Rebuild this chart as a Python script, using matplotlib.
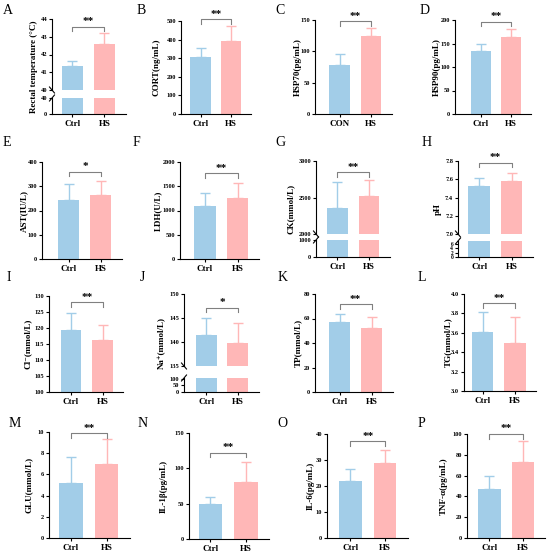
import numpy as np
import matplotlib.pyplot as plt
from matplotlib.ticker import MultipleLocator, FormatStrFormatter

plt.rcParams['font.family'] = ['Liberation Serif', 'DejaVu Serif', 'DejaVu Sans']
plt.rcParams['font.weight'] = 'bold'
plt.rcParams['axes.labelweight'] = 'bold'

W, H = 550, 555

# ---- values ----
letters = list("ABCDEFGHIJKLMNOP")
ylabels = ["Rectal temperature (°C)", "CORT(ng/mL)", "HSP70(pg/mL)", "HSP90(pg/mL)",
           "AST(IU/L)", "LDH(U/L)", "CK(mmol/L)", "pH",
           "Cl⁻(mmol/L)", "Na⁺(mmol/L)", "TP(mmol/L)", "TG(mmol/L)",
           "GLU(mmol/L)", "IL-1β(pg/mL)", "IL-6(pg/mL)", "TNF-α(pg/mL)"]
groups = [["Ctrl", "HS"]] * 16
groups[2] = ["CON", "HS"]

ctrl_mean = [41.33, 308, 78, 133, 243, 1095, 2356, 7.53, 119.3, 141.5, 57.0, 3.61, 5.2, 49, 22.1, 47]
ctrl_err = [0.28, 48, 18, 15, 66, 273, 356, 0.08, 5.4, 3.6, 7.0, 0.20, 2.4, 10.6, 4.4, 12.5]
hs_mean = [42.6, 394, 124, 164, 265, 1265, 2520, 7.58, 116.2, 139.8, 52.6, 3.50, 7.0, 81, 28.8, 72.7]
hs_err = [0.59, 79, 14, 16, 57, 295, 220, 0.09, 4.6, 4.2, 8.5, 0.265, 2.34, 27.3, 4.9, 20.9]
sig = ['**', '**', '**', '**', '*', '**', '**', '**', '**', '*', '**', '**', '**', '**', '**', '**']
sig_y = [43.55, 510, 148, 196, 359, 1773, 2849, 7.78, 128.1, 147.1, 71.8, 3.907, 9.9, 121.7, 37.3, 100]

# axis ranges
ylims = [(40, 44), (0, 500), (0, 150), (0, 200), (0, 400), (0, 2000), (2000, 3000), (7.0, 7.8),
         (100, 130), (135, 150), (0, 80), (3.0, 4.0), (0, 10), (0, 150), (0, 40), (0, 100)]
ysteps = [1, 100, 50, 50, 100, 500, 500, 0.2, 5, 5, 20, 0.2, 2, 50, 10, 20]
# lower part of broken axes: limits, ticks
lower = {0: ((0, 40), [0, 40]), 6: ((0, 1000), [0, 1000]),
         7: ((0, 7.5), [0, 2, 4, 6]), 9: ((0, 105), [0, 50, 100])}

# ---- layout in pixels: left, top, bottom, px per bar slot, left offset ----
layout = [(52, 19, 114, 32, 0.64), (181, 21, 114, 30.5, 0.64), (315, 20, 114, 31.5, 0.78), (455, 20, 114, 30.5, 0.84),
          (42, 162, 259, 32, 0.84), (180, 162, 259, 32.5, 0.77), (316, 161, 257, 31.5, 0.68), (458, 161, 257, 32.5, 0.65),
          (49, 296, 392, 31.5, 0.70), (184, 294, 392, 31.5, 0.71), (315, 294, 392, 32, 0.77), (464, 294, 391, 32.5, 0.57),
          (49, 432, 538, 35.5, 0.62), (189, 433, 539, 35.5, 0.60), (327, 434, 538, 34.5, 0.68), (467, 434, 538, 33.5, 0.67)]
splits = {0: (90, 98), 6: (234, 240), 7: (234, 241), 9: (366, 378)}
lab_off = [19, 25, 18, 19, 18, 22, 26, 21, 22, 22, 17, 17, 21, 26, 17, 24]
letter_pos = [(3, 4), (137, 4), (275, 4), (420, 4), (3, 136), (133, 136), (275, 136), (422, 136),
              (7, 271), (140, 271), (278, 271), (418, 271), (9, 417), (138, 417), (277, 417), (418, 417)]

blue = '#a2cde8'
pink = '#ffb7b7'
colors = [blue, pink]
barw = 0.66


def px2fig(l, t, r, b):
    return [l / W, 1 - b / H, (r - l) / W, (b - t) / H]


def style(a, fs_y=4.6):
    a.spines['top'].set_visible(False)
    a.spines['right'].set_visible(False)
    a.spines['left'].set_linewidth(0.8)
    a.spines['bottom'].set_linewidth(0.8)
    a.tick_params(axis='both', length=2.5, width=0.8, direction='out')
    a.tick_params(axis='y', labelsize=fs_y, pad=1)
    a.tick_params(axis='x', labelsize=6.5, pad=1.5)


def brk(a, y, sign, axw, axh):
    dx = 2.5 / axw
    dy = 3.0 / axh
    a.plot([-dx, dx], [y + sign * dy, y - sign * dy], transform=a.transAxes,
           color='k', lw=0.8, clip_on=False)


fig = plt.figure(figsize=(W / 100, H / 100), dpi=100)

for i in range(16):
    l, t, b, unit, off = layout[i]
    xmin, xmax = -off, 1.66
    r = l + (off + 1.66) * unit
    axw = r - l
    means = [ctrl_mean[i], hs_mean[i]]
    errs = [ctrl_err[i], hs_err[i]]

    if i in splits:
        su, sl = splits[i]
        ax = fig.add_axes(px2fig(l, t, r, su))
        axl = fig.add_axes(px2fig(l, sl, r, b))
        axh = su - t
    else:
        su = b
        ax = fig.add_axes(px2fig(l, t, r, b))
        axl = None
        axh = b - t

    ax.bar([0, 1], means, width=barw, color=colors, zorder=2)
    for k in range(2):
        ax.errorbar(k, means[k], yerr=[[0], [errs[k]]], fmt='none', ecolor=colors[k],
                    elinewidth=1.0, capsize=3.5, capthick=1.0, zorder=1)
    ax.set_xlim(xmin, xmax)
    ax.set_ylim(*ylims[i])
    ax.yaxis.set_major_locator(MultipleLocator(ysteps[i]))
    if ysteps[i] < 1:
        ax.yaxis.set_major_formatter(FormatStrFormatter('%.1f'))
    else:
        ax.yaxis.set_major_formatter(FormatStrFormatter('%d'))
    style(ax)

    if axl is not None:
        lim, ticks = lower[i]
        axl.bar([0, 1], means, width=barw, color=colors, zorder=2)
        axl.set_xlim(xmin, xmax)
        axl.set_ylim(*lim)
        axl.set_yticks(ticks)
        style(axl, fs_y=4.6 if i != 7 else 4.0)
        axl.set_xticks([0, 1])
        axl.set_xticklabels(groups[i])
        ax.spines['bottom'].set_visible(False)
        ax.set_xticks([])
        brk(ax, 0, 1, axw, su - t)
        brk(axl, 1, -1, axw, b - sl)
    else:
        ax.set_xticks([0, 1])
        ax.set_xticklabels(groups[i])

    # significance bracket
    y0, y1 = ylims[i]
    leg = 4.5 * (y1 - y0) / axh
    ax.plot([0, 0, 1, 1], [sig_y[i] - leg, sig_y[i], sig_y[i], sig_y[i] - leg],
            color='#808080', lw=0.8, clip_on=False, zorder=3)
    ax.text(0.5, sig_y[i] + 0.5 * (y1 - y0) / axh, sig[i], ha='center', va='bottom',
            fontsize=8, fontweight='bold', clip_on=False)

    # y label centred on whole panel height
    ax.set_ylabel(ylabels[i], fontsize=6.5)
    mid = (t + b) / 2
    ax.yaxis.set_label_coords(-(lab_off[i] - 4.5) / axw, (su - mid) / (su - t))

    lx, ly = letter_pos[i]
    fig.text(lx / W, 1 - ly / H, letters[i], fontsize=10, fontweight='normal',
             va='top', ha='left')

fig.savefig('out.png', dpi=100)
